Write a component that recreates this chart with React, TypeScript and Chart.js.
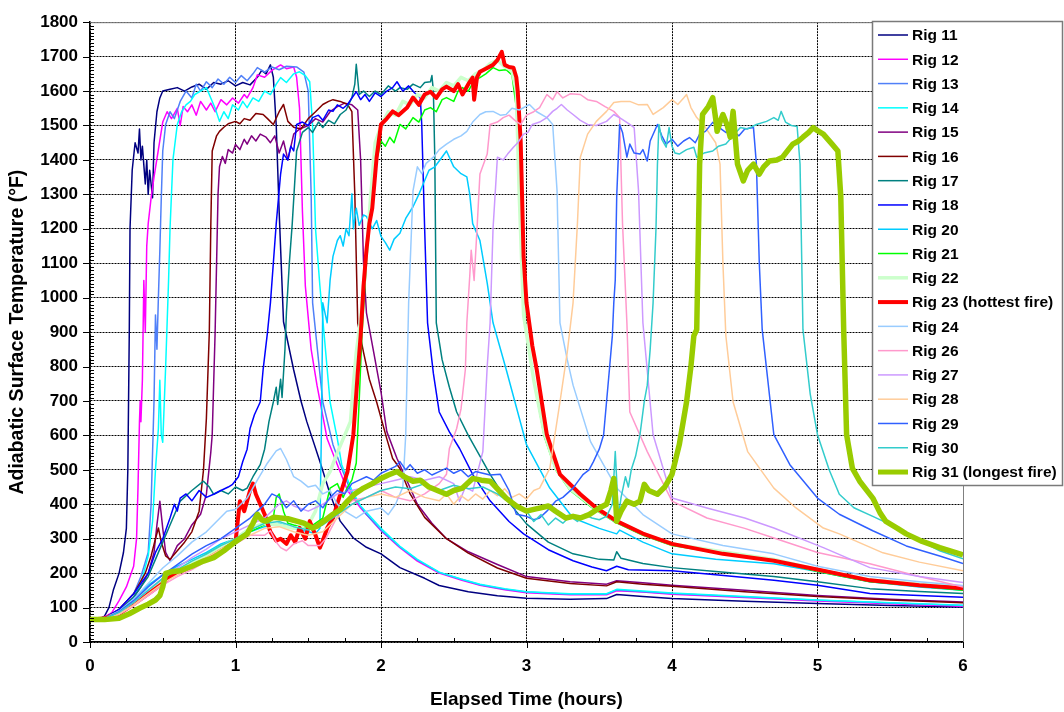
import React, { useEffect, useRef } from "react";
import { Chart, registerables } from "chart.js";

Chart.register(...registerables);

const FONT = '"Liberation Sans", Arial, Helvetica, sans-serif';

// [elapsed hours, temperature °F]
const rig11: number[][] = [[0,65],[0.06,66],[0.1,75],[0.13,100],[0.16,150],[0.2,200],[0.23,260],[0.25,330],[0.26,500],[0.27,900],[0.275,1200],[0.29,1370],[0.31,1450],[0.33,1420],[0.34,1490],[0.35,1400],[0.36,1440],[0.38,1330],[0.39,1400],[0.4,1300],[0.41,1370],[0.43,1290],[0.44,1450],[0.46,1540],[0.48,1580],[0.5,1600],[0.55,1605],[0.6,1610],[0.65,1600],[0.7,1612],[0.75,1620],[0.8,1605],[0.85,1625],[0.9,1620],[0.95,1630],[1.0,1615],[1.05,1625],[1.1,1618],[1.15,1640],[1.18,1660],[1.21,1650],[1.24,1676],[1.26,1640],[1.28,1500],[1.3,1250],[1.33,930],[1.4,790],[1.45,700],[1.49,640],[1.58,524],[1.65,430],[1.72,351],[1.81,302],[1.9,275],[2.0,256],[2.13,216],[2.3,185],[2.4,164],[2.6,146],[2.8,134],[3.0,127],[3.3,124],[3.55,126],[3.62,138],[3.8,132],[4.0,126],[4.5,118],[5.0,112],[5.5,106],[6.0,102]];
const rig12: number[][] = [[0,65],[0.08,68],[0.15,85],[0.2,120],[0.25,160],[0.3,220],[0.32,300],[0.33,450],[0.34,640],[0.345,700],[0.35,640],[0.36,760],[0.37,1050],[0.38,900],[0.39,1150],[0.4,1215],[0.42,1290],[0.44,1350],[0.47,1430],[0.5,1510],[0.53,1540],[0.56,1520],[0.6,1550],[0.62,1500],[0.64,1555],[0.67,1540],[0.7,1560],[0.73,1530],[0.76,1570],[0.8,1545],[0.83,1565],[0.86,1540],[0.9,1575],[0.94,1560],[0.98,1580],[1.02,1565],[1.06,1590],[1.08,1580],[1.12,1610],[1.15,1647],[1.2,1640],[1.25,1660],[1.31,1676],[1.35,1665],[1.4,1670],[1.42,1640],[1.44,1550],[1.46,1250],[1.48,1034],[1.52,850],[1.56,746],[1.63,590],[1.7,515],[1.77,440],[1.86,389],[2.0,323],[2.13,274],[2.25,235],[2.4,200],[2.55,180],[2.68,165],[2.85,152],[3.0,143],[3.3,137],[3.55,137],[3.62,149],[3.8,145],[4.0,139],[4.5,129],[5.0,119],[5.5,111],[6.0,104]];
const rig13: number[][] = [[0,65],[0.1,70],[0.2,95],[0.3,140],[0.35,190],[0.4,260],[0.42,400],[0.44,700],[0.45,950],[0.46,850],[0.47,1000],[0.48,1137],[0.49,1290],[0.5,1426],[0.52,1503],[0.55,1540],[0.58,1520],[0.62,1570],[0.66,1600],[0.7,1580],[0.73,1620],[0.76,1600],[0.8,1627],[0.84,1610],[0.88,1635],[0.92,1620],[0.96,1640],[1.0,1625],[1.04,1645],[1.08,1630],[1.12,1650],[1.15,1668],[1.2,1655],[1.25,1670],[1.3,1662],[1.35,1672],[1.42,1670],[1.47,1655],[1.5,1600],[1.52,1300],[1.53,985],[1.6,697],[1.67,573],[1.72,515],[1.8,430],[1.9,370],[2.0,325],[2.13,276],[2.25,238],[2.4,202],[2.55,182],[2.68,166],[2.85,153],[3.0,145],[3.3,139],[3.55,139],[3.62,151],[3.8,146],[4.0,141],[4.5,131],[5.0,121],[5.5,113],[6.0,106]];
const rig14: number[][] = [[0,65],[0.1,68],[0.2,90],[0.3,130],[0.35,170],[0.4,250],[0.43,350],[0.45,500],[0.47,620],[0.48,760],[0.49,600],[0.5,580],[0.52,800],[0.54,1050],[0.55,1200],[0.57,1400],[0.6,1503],[0.63,1540],[0.66,1560],[0.69,1570],[0.72,1590],[0.76,1600],[0.8,1610],[0.83,1580],[0.86,1550],[0.89,1512],[0.92,1540],[0.95,1520],[0.98,1560],[1.02,1545],[1.05,1570],[1.08,1552],[1.12,1580],[1.16,1570],[1.2,1600],[1.24,1590],[1.28,1620],[1.31,1639],[1.35,1625],[1.4,1650],[1.44,1656],[1.48,1645],[1.51,1627],[1.53,1500],[1.55,1200],[1.58,1034],[1.65,697],[1.7,590],[1.73,515],[1.8,440],[1.86,395],[2.0,330],[2.13,278],[2.25,240],[2.4,203],[2.55,183],[2.68,168],[2.85,155],[3.0,146],[3.3,140],[3.55,140],[3.62,153],[3.8,148],[4.0,142],[4.5,132],[5.0,122],[5.5,114],[6.0,107]];
const rig15: number[][] = [[0,65],[0.1,68],[0.2,90],[0.3,130],[0.35,160],[0.4,200],[0.44,260],[0.46,340],[0.48,409],[0.5,330],[0.52,260],[0.55,236],[0.6,280],[0.65,300],[0.7,340],[0.76,371],[0.8,429],[0.83,550],[0.84,602],[0.86,900],[0.88,1300],[0.89,1380],[0.91,1410],[0.93,1390],[0.95,1430],[0.98,1420],[1.0,1445],[1.03,1430],[1.06,1460],[1.08,1446],[1.11,1470],[1.14,1455],[1.17,1475],[1.21,1466],[1.24,1450],[1.27,1470],[1.3,1420],[1.33,1455],[1.36,1400],[1.4,1475],[1.44,1490],[1.5,1500],[1.55,1520],[1.6,1510],[1.65,1540],[1.7,1555],[1.75,1565],[1.8,1560],[1.84,1545],[1.86,1400],[1.88,1100],[1.9,956],[1.95,841],[2.0,726],[2.04,611],[2.11,533],[2.18,467],[2.25,400],[2.35,345],[2.45,300],[2.6,262],[2.8,225],[3.0,190],[3.3,175],[3.55,168],[3.62,178],[3.8,172],[4.0,165],[4.5,150],[5.0,135],[5.5,124],[6.0,116]];
const rig16: number[][] = [[0,65],[0.1,70],[0.2,95],[0.3,140],[0.38,200],[0.42,250],[0.45,300],[0.47,331],[0.49,290],[0.52,250],[0.55,240],[0.6,265],[0.65,290],[0.7,320],[0.75,380],[0.78,500],[0.8,650],[0.82,900],[0.83,1200],[0.84,1426],[0.87,1470],[0.89,1483],[0.92,1495],[0.95,1505],[1.0,1512],[1.03,1505],[1.06,1520],[1.1,1515],[1.14,1535],[1.19,1532],[1.22,1520],[1.26,1503],[1.3,1540],[1.33,1561],[1.36,1512],[1.4,1495],[1.45,1490],[1.5,1520],[1.55,1540],[1.6,1561],[1.64,1570],[1.67,1575],[1.72,1570],[1.77,1561],[1.8,1540],[1.82,1300],[1.84,927],[1.88,841],[1.92,763],[1.97,697],[2.04,590],[2.08,533],[2.13,504],[2.2,430],[2.3,362],[2.45,300],[2.6,258],[2.8,215],[3.0,185],[3.3,170],[3.55,163],[3.62,175],[3.8,168],[4.0,162],[4.5,146],[5.0,132],[5.5,122],[6.0,114]];
const rig17: number[][] = [[0,65],[0.1,68],[0.2,90],[0.3,130],[0.4,190],[0.45,240],[0.5,290],[0.55,340],[0.62,409],[0.7,440],[0.78,467],[0.82,450],[0.85,429],[0.9,440],[0.95,430],[1.0,450],[1.05,440],[1.08,447],[1.12,480],[1.17,515],[1.2,560],[1.23,640],[1.26,697],[1.28,740],[1.29,690],[1.31,763],[1.32,710],[1.34,850],[1.35,956],[1.37,1100],[1.39,1215],[1.42,1426],[1.46,1480],[1.5,1494],[1.53,1480],[1.57,1510],[1.6,1494],[1.64,1515],[1.68,1505],[1.72,1532],[1.76,1545],[1.8,1581],[1.82,1620],[1.83,1678],[1.85,1590],[1.88,1600],[1.92,1584],[1.96,1600],[2.0,1590],[2.05,1615],[2.1,1600],[2.13,1610],[2.18,1605],[2.22,1620],[2.27,1610],[2.3,1625],[2.34,1627],[2.35,1645],[2.36,1600],[2.37,1400],[2.38,927],[2.42,820],[2.47,740],[2.52,668],[2.6,600],[2.68,540],[2.75,487],[2.85,420],[3.0,343],[3.15,290],[3.32,256],[3.5,240],[3.6,238],[3.62,262],[3.65,243],[3.8,228],[4.0,216],[4.3,205],[4.7,190],[5.0,175],[5.36,155],[5.7,147],[6.0,141]];
const rig18: number[][] = [[0,65],[0.1,70],[0.2,95],[0.3,140],[0.4,200],[0.45,260],[0.5,300],[0.55,360],[0.58,400],[0.6,380],[0.62,418],[0.66,430],[0.7,410],[0.75,440],[0.8,420],[0.85,429],[0.9,440],[0.95,450],[0.98,458],[1.02,480],[1.05,524],[1.08,560],[1.1,620],[1.13,660],[1.17,697],[1.19,792],[1.22,900],[1.24,985],[1.26,1100],[1.28,1215],[1.31,1359],[1.33,1417],[1.36,1400],[1.38,1440],[1.4,1426],[1.42,1503],[1.46,1510],[1.5,1500],[1.53,1523],[1.57,1530],[1.6,1515],[1.64,1545],[1.67,1541],[1.7,1560],[1.74,1550],[1.77,1561],[1.8,1580],[1.83,1598],[1.86,1575],[1.89,1590],[1.92,1570],[1.96,1595],[2.0,1584],[2.04,1600],[2.08,1610],[2.11,1627],[2.15,1600],[2.19,1615],[2.23,1595],[2.27,1581],[2.28,1503],[2.3,1200],[2.32,927],[2.36,780],[2.4,668],[2.47,610],[2.54,562],[2.63,487],[2.75,410],[2.88,350],[2.98,314],[3.15,268],[3.32,236],[3.45,218],[3.55,207],[3.62,220],[3.7,210],[4.0,207],[4.3,195],[4.7,179],[5.0,165],[5.36,141],[5.7,135],[6.0,130]];
const rig20: number[][] = [[0,65],[0.1,68],[0.2,88],[0.3,125],[0.4,165],[0.5,195],[0.6,220],[0.7,240],[0.8,260],[0.9,285],[1.0,300],[1.1,320],[1.2,335],[1.3,345],[1.4,330],[1.5,320],[1.55,315],[1.58,330],[1.59,600],[1.6,985],[1.63,927],[1.65,1050],[1.67,1120],[1.7,1166],[1.72,1180],[1.74,1150],[1.76,1200],[1.78,1180],[1.8,1302],[1.81,1200],[1.83,1260],[1.85,1210],[1.88,1240],[1.9,1236],[1.94,1200],[1.97,1224],[2.0,1178],[2.03,1160],[2.06,1138],[2.09,1170],[2.13,1187],[2.17,1230],[2.22,1264],[2.26,1300],[2.29,1330],[2.33,1370],[2.37,1380],[2.4,1397],[2.45,1426],[2.5,1380],[2.55,1360],[2.59,1351],[2.61,1300],[2.63,1215],[2.68,1166],[2.73,1042],[2.77,927],[2.86,792],[3.0,573],[3.16,447],[3.32,360],[3.5,330],[3.62,314],[3.64,325],[3.8,290],[4.0,256],[4.3,240],[4.7,227],[5.0,205],[5.36,175],[5.7,160],[6.0,150]];
const rig21: number[][] = [[0,65],[0.1,68],[0.2,85],[0.3,115],[0.4,150],[0.5,180],[0.6,205],[0.7,230],[0.8,255],[0.9,280],[1.0,300],[1.1,320],[1.2,340],[1.26,360],[1.28,420],[1.3,430],[1.33,380],[1.36,345],[1.4,340],[1.5,330],[1.6,360],[1.65,447],[1.7,460],[1.74,420],[1.77,450],[1.8,470],[1.83,520],[1.85,700],[1.87,900],[1.9,1100],[1.93,1250],[1.96,1380],[2.0,1455],[2.03,1440],[2.06,1466],[2.09,1450],[2.13,1503],[2.17,1490],[2.22,1523],[2.26,1510],[2.3,1545],[2.34,1552],[2.38,1540],[2.42,1575],[2.45,1581],[2.5,1570],[2.53,1600],[2.56,1610],[2.6,1600],[2.64,1630],[2.68,1639],[2.72,1650],[2.77,1668],[2.81,1660],[2.86,1662],[2.9,1647],[2.93,1552],[2.96,1215],[2.99,927],[3.05,760],[3.12,600],[3.2,500],[3.3,440],[3.45,390],[3.6,350],[3.8,310],[4.0,280],[4.3,260],[4.7,235],[5.0,205],[5.36,175],[5.7,162],[6.0,150]];
const rig22: number[][] = [[0,65],[0.1,68],[0.2,85],[0.3,115],[0.4,150],[0.5,180],[0.6,205],[0.7,230],[0.8,250],[0.9,275],[1.0,300],[1.1,330],[1.2,345],[1.3,340],[1.4,330],[1.5,340],[1.55,380],[1.6,460],[1.65,495],[1.7,550],[1.74,590],[1.79,640],[1.81,746],[1.83,841],[1.86,936],[1.88,1034],[1.9,1129],[1.93,1300],[1.96,1450],[2.0,1500],[2.05,1540],[2.1,1530],[2.15,1570],[2.2,1560],[2.25,1590],[2.3,1580],[2.35,1610],[2.4,1600],[2.45,1625],[2.5,1615],[2.55,1640],[2.6,1630],[2.65,1650],[2.7,1660],[2.75,1680],[2.8,1690],[2.85,1670],[2.9,1660],[2.93,1600],[2.95,1300],[2.98,950],[3.05,760],[3.12,610],[3.2,505],[3.3,445],[3.45,395],[3.6,355],[3.8,315],[4.0,285],[4.3,265],[4.7,240],[5.0,210],[5.36,180],[5.7,168],[6.0,158]];
const rig23: number[][] = [[0,65],[0.1,68],[0.2,82],[0.3,110],[0.4,140],[0.5,170],[0.55,190],[0.6,200],[0.7,220],[0.8,240],[0.9,265],[1.0,290],[1.03,409],[1.06,380],[1.1,440],[1.12,460],[1.14,429],[1.17,400],[1.2,371],[1.24,320],[1.28,294],[1.31,300],[1.35,285],[1.38,310],[1.41,290],[1.44,331],[1.48,300],[1.51,351],[1.55,310],[1.58,274],[1.6,294],[1.63,331],[1.67,360],[1.72,429],[1.77,495],[1.81,602],[1.84,780],[1.86,889],[1.88,1034],[1.9,1138],[1.92,1215],[1.94,1260],[1.97,1408],[2.0,1503],[2.04,1520],[2.08,1541],[2.12,1530],[2.18,1552],[2.22,1581],[2.26,1560],[2.3,1590],[2.34,1598],[2.38,1580],[2.42,1605],[2.45,1613],[2.5,1600],[2.53,1620],[2.56,1590],[2.6,1620],[2.63,1639],[2.64,1575],[2.66,1640],[2.68,1656],[2.72,1665],[2.77,1676],[2.8,1690],[2.83,1714],[2.85,1676],[2.88,1670],[2.91,1668],[2.93,1640],[2.94,1598],[2.96,1455],[2.98,1120],[3.0,985],[3.04,860],[3.07,792],[3.14,602],[3.23,487],[3.37,429],[3.48,389],[3.62,351],[3.8,315],[4.0,285],[4.35,256],[4.7,236],[5.04,207],[5.36,179],[5.7,165],[6.0,156]];
const rig24: number[][] = [[0,65],[0.1,68],[0.2,90],[0.3,125],[0.4,170],[0.5,215],[0.6,250],[0.7,290],[0.8,320],[0.94,380],[1.0,385],[1.08,418],[1.15,470],[1.22,520],[1.28,555],[1.31,562],[1.35,530],[1.4,480],[1.45,467],[1.5,450],[1.55,455],[1.6,430],[1.65,440],[1.7,400],[1.75,380],[1.83,360],[1.9,380],[2.0,389],[2.05,370],[2.1,400],[2.15,450],[2.17,602],[2.19,985],[2.22,1310],[2.25,1380],[2.28,1360],[2.31,1390],[2.36,1408],[2.4,1430],[2.45,1446],[2.5,1460],[2.55,1470],[2.59,1483],[2.63,1510],[2.68,1532],[2.72,1540],[2.77,1541],[2.82,1530],[2.86,1532],[2.9,1550],[2.95,1545],[3.02,1561],[3.07,1540],[3.14,1523],[3.18,1503],[3.21,1310],[3.23,927],[3.28,820],[3.32,746],[3.44,582],[3.62,447],[3.8,370],[4.0,314],[4.35,280],[4.7,256],[5.0,220],[5.36,190],[5.7,175],[6.0,164]];
const rig26: number[][] = [[0,65],[0.1,67],[0.2,80],[0.3,105],[0.4,135],[0.5,165],[0.6,190],[0.7,210],[0.8,235],[0.89,265],[1.0,285],[1.1,310],[1.2,310],[1.24,323],[1.28,290],[1.31,274],[1.35,265],[1.4,285],[1.46,294],[1.5,280],[1.58,280],[1.62,300],[1.67,340],[1.72,380],[1.8,410],[1.9,420],[2.0,440],[2.1,420],[2.2,410],[2.3,430],[2.4,460],[2.45,487],[2.47,562],[2.52,620],[2.55,677],[2.58,792],[2.59,927],[2.61,1063],[2.62,1138],[2.64,1050],[2.66,1200],[2.68,1359],[2.73,1417],[2.75,1503],[2.8,1510],[2.84,1523],[2.88,1530],[2.92,1515],[2.96,1503],[3.0,1530],[3.05,1540],[3.09,1552],[3.14,1590],[3.18,1575],[3.21,1598],[3.25,1580],[3.3,1592],[3.37,1590],[3.42,1575],[3.48,1570],[3.54,1555],[3.6,1541],[3.64,1523],[3.66,1215],[3.69,927],[3.71,668],[3.83,553],[4.0,409],[4.24,360],[4.5,330],[4.7,302],[5.0,260],[5.36,227],[5.7,190],[6.0,160]];
const rig27: number[][] = [[0,65],[0.1,68],[0.2,85],[0.3,115],[0.4,150],[0.5,185],[0.6,215],[0.7,245],[0.8,270],[0.9,300],[1.0,320],[1.1,340],[1.2,360],[1.3,400],[1.35,410],[1.4,395],[1.5,380],[1.6,400],[1.7,430],[1.8,440],[1.9,450],[2.0,460],[2.1,470],[2.2,480],[2.3,470],[2.4,480],[2.5,460],[2.54,409],[2.58,450],[2.63,438],[2.7,553],[2.73,800],[2.75,927],[2.77,1200],[2.8,1408],[2.84,1400],[2.87,1417],[2.91,1437],[2.94,1450],[2.98,1475],[3.01,1480],[3.04,1503],[3.09,1510],[3.14,1523],[3.18,1541],[3.21,1550],[3.24,1561],[3.28,1545],[3.32,1532],[3.37,1515],[3.42,1503],[3.48,1500],[3.55,1512],[3.6,1532],[3.65,1520],[3.71,1503],[3.74,1494],[3.77,1310],[3.8,927],[3.87,602],[4.0,418],[4.24,389],[4.5,360],[4.7,331],[5.04,274],[5.36,216],[5.7,190],[6.0,173]];
const rig28: number[][] = [[0,65],[0.1,67],[0.2,82],[0.3,108],[0.4,140],[0.5,170],[0.6,195],[0.7,220],[0.8,245],[0.9,270],[1.0,290],[1.1,310],[1.2,330],[1.3,335],[1.4,320],[1.5,310],[1.6,320],[1.7,360],[1.8,400],[1.9,420],[2.0,430],[2.1,420],[2.2,440],[2.3,420],[2.4,410],[2.45,430],[2.5,400],[2.55,425],[2.6,410],[2.65,430],[2.7,415],[2.75,440],[2.8,425],[2.85,445],[2.9,420],[2.95,430],[3.0,415],[3.05,440],[3.09,447],[3.16,504],[3.23,697],[3.28,841],[3.32,985],[3.35,1215],[3.37,1408],[3.42,1475],[3.48,1512],[3.55,1541],[3.6,1567],[3.65,1570],[3.71,1570],[3.77,1560],[3.83,1561],[3.87,1532],[3.94,1552],[4.0,1575],[4.04,1561],[4.08,1580],[4.1,1590],[4.13,1552],[4.17,1523],[4.22,1500],[4.3,1450],[4.33,1388],[4.35,1100],[4.37,890],[4.42,697],[4.52,553],[4.7,447],[4.85,390],[5.04,331],[5.15,314],[5.45,259],[5.7,232],[6.0,207]];
const rig29: number[][] = [[0,65],[0.1,68],[0.2,88],[0.3,120],[0.4,160],[0.5,195],[0.6,225],[0.7,255],[0.8,280],[0.9,300],[1.0,330],[1.1,360],[1.15,380],[1.2,400],[1.25,430],[1.3,420],[1.35,390],[1.4,410],[1.45,380],[1.5,400],[1.55,410],[1.6,390],[1.65,420],[1.7,440],[1.75,430],[1.8,460],[1.85,470],[1.9,480],[1.95,470],[2.0,490],[2.05,500],[2.1,510],[2.13,524],[2.17,500],[2.2,515],[2.25,490],[2.3,500],[2.35,485],[2.4,495],[2.45,505],[2.5,490],[2.55,500],[2.6,480],[2.65,495],[2.7,490],[2.75,485],[2.82,487],[2.88,440],[2.93,371],[3.0,365],[3.05,355],[3.09,360],[3.14,380],[3.2,409],[3.25,420],[3.32,447],[3.36,470],[3.39,487],[3.43,500],[3.46,524],[3.5,560],[3.53,602],[3.57,792],[3.59,889],[3.6,985],[3.61,1051],[3.62,1293],[3.64,1503],[3.66,1480],[3.69,1408],[3.71,1446],[3.74,1420],[3.78,1417],[3.8,1430],[3.83,1397],[3.85,1455],[3.9,1503],[3.93,1470],[3.96,1446],[4.0,1460],[4.04,1440],[4.08,1455],[4.12,1465],[4.16,1450],[4.19,1475],[4.23,1483],[4.28,1509],[4.32,1495],[4.37,1480],[4.42,1483],[4.46,1470],[4.5,1490],[4.56,1494],[4.58,1388],[4.6,1100],[4.62,907],[4.7,602],[4.81,515],[5.0,418],[5.15,371],[5.38,323],[5.61,279],[5.84,250],[6.0,228]];
const rig30: number[][] = [[0,65],[0.1,68],[0.2,86],[0.3,115],[0.4,150],[0.5,185],[0.6,210],[0.7,235],[0.8,255],[0.9,280],[1.0,300],[1.1,325],[1.2,345],[1.3,350],[1.4,335],[1.5,325],[1.6,340],[1.7,370],[1.8,400],[1.9,420],[2.0,440],[2.1,450],[2.2,445],[2.3,460],[2.4,440],[2.5,455],[2.6,445],[2.7,450],[2.8,430],[2.9,400],[3.0,380],[3.05,350],[3.1,370],[3.15,340],[3.2,360],[3.25,345],[3.3,365],[3.35,350],[3.4,370],[3.45,360],[3.5,355],[3.55,365],[3.59,400],[3.61,553],[3.62,470],[3.63,360],[3.65,420],[3.68,480],[3.7,450],[3.72,500],[3.75,540],[3.78,602],[3.81,700],[3.83,746],[3.85,850],[3.87,985],[3.89,1200],[3.9,1388],[3.91,1503],[3.93,1460],[3.96,1437],[3.98,1494],[4.0,1440],[4.02,1420],[4.05,1417],[4.1,1430],[4.15,1437],[4.17,1408],[4.22,1420],[4.28,1426],[4.32,1440],[4.37,1446],[4.42,1470],[4.47,1494],[4.52,1490],[4.58,1503],[4.65,1512],[4.7,1523],[4.73,1515],[4.75,1541],[4.78,1510],[4.82,1500],[4.86,1497],[4.88,1388],[4.9,907],[4.95,720],[5.0,602],[5.08,500],[5.15,429],[5.25,390],[5.38,365],[5.45,351],[5.61,314],[5.84,265],[6.0,242]];
const rig31: number[][] = [[0,65],[0.1,65],[0.2,69],[0.27,82],[0.34,98],[0.4,110],[0.45,122],[0.48,135],[0.5,160],[0.52,199],[0.57,205],[0.62,207],[0.7,220],[0.78,235],[0.85,245],[0.92,265],[0.98,285],[1.03,300],[1.08,314],[1.12,345],[1.15,371],[1.18,355],[1.21,351],[1.26,362],[1.31,360],[1.36,358],[1.42,351],[1.47,345],[1.53,331],[1.56,336],[1.58,343],[1.62,355],[1.67,371],[1.72,385],[1.77,409],[1.82,430],[1.88,447],[1.94,460],[2.0,475],[2.05,485],[2.11,495],[2.16,480],[2.22,467],[2.27,470],[2.33,450],[2.4,438],[2.45,429],[2.5,440],[2.56,447],[2.63,475],[2.69,470],[2.75,467],[2.8,445],[2.86,418],[2.93,395],[3.0,380],[3.05,385],[3.09,389],[3.15,395],[3.2,380],[3.27,360],[3.32,365],[3.37,360],[3.43,370],[3.5,389],[3.55,400],[3.58,440],[3.6,475],[3.61,430],[3.62,351],[3.65,380],[3.69,409],[3.74,400],[3.78,409],[3.81,458],[3.84,440],[3.9,429],[3.95,450],[4.0,487],[4.05,573],[4.1,697],[4.13,800],[4.15,889],[4.17,907],[4.19,1388],[4.21,1532],[4.25,1555],[4.28,1581],[4.3,1520],[4.31,1483],[4.33,1510],[4.35,1532],[4.38,1500],[4.4,1466],[4.42,1541],[4.45,1388],[4.49,1339],[4.52,1370],[4.56,1388],[4.6,1359],[4.63,1380],[4.67,1397],[4.72,1400],[4.76,1408],[4.8,1430],[4.83,1446],[4.87,1455],[4.9,1466],[4.94,1480],[4.97,1494],[5.0,1485],[5.04,1475],[5.1,1446],[5.14,1426],[5.16,1293],[5.18,907],[5.2,602],[5.24,504],[5.29,467],[5.38,418],[5.43,375],[5.47,350],[5.55,330],[5.61,314],[5.72,292],[5.84,274],[6.0,253]];

const seriesData = [rig11, rig12, rig13, rig14, rig15, rig16, rig17, rig18, rig20, rig21, rig22, rig23, rig24, rig26, rig27, rig28, rig29, rig30, rig31];
const seriesNames = ["Rig 11", "Rig 12", "Rig 13", "Rig 14", "Rig 15", "Rig 16", "Rig 17", "Rig 18", "Rig 20", "Rig 21", "Rig 22", "Rig 23 (hottest fire)", "Rig 24", "Rig 26", "Rig 27", "Rig 28", "Rig 29", "Rig 30", "Rig 31 (longest fire)"];
const seriesColors = ["#000080", "#FF00FF", "#5080F8", "#00FFFF", "#800080", "#800000", "#008080", "#0000FF", "#00CCFF", "#00FF00", "#CCFFCC", "#FF0000", "#99CCFF", "#FF99CC", "#CC99FF", "#FFCC99", "#3060FF", "#33CCCC", "#99CC00"];
const seriesWidths = [1.5, 1.5, 1.5, 1.5, 1.5, 1.5, 1.5, 1.5, 1.5, 1.5, 3.5, 4, 1.5, 1.5, 1.5, 1.5, 1.5, 1.5, 5.5];

const xTicks = [0, 1, 2, 3, 4, 5, 6];
const yTicks = [0, 100, 200, 300, 400, 500, 600, 700, 800, 900, 1000, 1100, 1200, 1300, 1400, 1500, 1600, 1700, 1800];

const decorPlugin = {
  id: "decor",
  afterDraw(chart: any) {
    const { ctx, chartArea: a, scales } = chart;
    const x = scales.x;
    const y = scales.y;
    ctx.save();
    ctx.strokeStyle = "#808080";
    ctx.lineWidth = 1;
    ctx.beginPath();
    ctx.moveTo(a.left, a.top + 0.5);
    ctx.lineTo(a.right + 0.5, a.top + 0.5);
    ctx.lineTo(a.right + 0.5, a.bottom);
    ctx.stroke();
    ctx.strokeStyle = "#000";
    ctx.lineWidth = 1;
    ctx.beginPath();
    for (let v = 0; v <= 1800; v += 10) {
      const py = Math.round(y.getPixelForValue(v)) + 0.5;
      if (v % 100 === 0) {
        ctx.moveTo(a.left - 7, py);
        ctx.lineTo(a.left, py);
      } else {
        ctx.moveTo(a.left, py);
        ctx.lineTo(a.left + 4, py);
      }
    }
    for (let i = 0; i <= 24; i++) {
      const px = Math.round(x.getPixelForValue(i / 4)) + 0.5;
      if (i % 4 === 0) {
        ctx.moveTo(px, a.bottom);
        ctx.lineTo(px, a.bottom + 6);
      } else {
        ctx.moveTo(px, a.bottom);
        ctx.lineTo(px, a.bottom - 4);
      }
    }
    ctx.stroke();
    const lx = 872, ly = 21, lw = 190, lh = 464;
    ctx.fillStyle = "#fff";
    ctx.fillRect(lx, ly, lw, lh);
    ctx.strokeStyle = "#7a7a7a";
    ctx.lineWidth = 1.5;
    ctx.strokeRect(lx + 0.5, ly + 0.5, lw, lh);
    ctx.font = `bold 15.5px ${FONT}`;
    ctx.textBaseline = "middle";
    ctx.textAlign = "left";
    const ds = chart.data.datasets;
    for (let i = 0; i < ds.length; i++) {
      const cy = 35 + i * 24.28;
      ctx.strokeStyle = ds[i].borderColor;
      ctx.lineWidth = Math.min(ds[i].borderWidth, 5);
      ctx.beginPath();
      ctx.moveTo(878, cy);
      ctx.lineTo(908, cy);
      ctx.stroke();
      ctx.fillStyle = "#000";
      ctx.fillText(ds[i].label, 912, cy + 1);
    }
    ctx.restore();
  },
};

export default function App() {
  const ref = useRef<HTMLCanvasElement>(null);
  useEffect(() => {
    if (!ref.current) return;
    const n = seriesData.length;
    const chart = new Chart(ref.current, {
      type: "line",
      data: {
        datasets: seriesData.map((d, i) => ({
          label: seriesNames[i],
          data: d.map(([t, v]) => ({ x: t, y: v })),
          borderColor: seriesColors[i],
          backgroundColor: seriesColors[i],
          borderWidth: seriesWidths[i],
          pointRadius: 0,
          tension: 0,
          fill: false,
          borderJoinStyle: "round",
          order: n - i,
        })),
      },
      options: {
        responsive: false,
        animation: false,
        devicePixelRatio: 1,
        layout: { padding: { left: 0, right: 101, top: 17, bottom: 0 } },
        plugins: { legend: { display: false }, tooltip: { enabled: false } },
        scales: {
          x: {
            type: "linear",
            min: 0,
            max: 6,
            afterBuildTicks: (s: any) => {
              s.ticks = xTicks.map((v) => ({ value: v }));
            },
            ticks: {
              font: { family: FONT, size: 17, weight: "bold" },
              color: "#000",
              padding: 14,
              maxRotation: 0,
              callback: (v: any) => String(v),
            },
            grid: { color: "#000", lineWidth: 1, drawTicks: false },
            border: { display: true, color: "#000", width: 1.5, dash: [2, 1] },
            title: {
              display: true,
              text: "Elapsed Time (hours)",
              font: { family: FONT, size: 19, weight: "bold" },
              color: "#000",
              padding: { top: 4, bottom: 1 },
            },
            afterFit: (s: any) => {
              s.height = 70;
            },
          },
          y: {
            type: "linear",
            min: 0,
            max: 1800,
            afterBuildTicks: (s: any) => {
              s.ticks = yTicks.map((v) => ({ value: v }));
            },
            ticks: {
              font: { family: FONT, size: 17, weight: "bold" },
              color: "#000",
              padding: 12,
              callback: (v: any) => String(v),
            },
            grid: { color: "#000", lineWidth: 1, drawTicks: false },
            border: { display: true, color: "#000", width: 1.5, dash: [2, 1] },
            title: {
              display: true,
              text: "Adiabatic Surface Temperature (°F)",
              font: { family: FONT, size: 19.5, weight: "bold" },
              color: "#000",
              padding: { top: 6, bottom: 4 },
            },
            afterFit: (s: any) => {
              s.width = 90;
            },
          },
        },
      },
      plugins: [decorPlugin],
    } as any);
    return () => chart.destroy();
  }, []);
  return (
    <div style={{ position: "absolute", left: 0, top: 0, width: 1064, height: 712, background: "#fff" }}>
      <canvas ref={ref} width={1064} height={712} style={{ display: "block" }} />
    </div>
  );
}
